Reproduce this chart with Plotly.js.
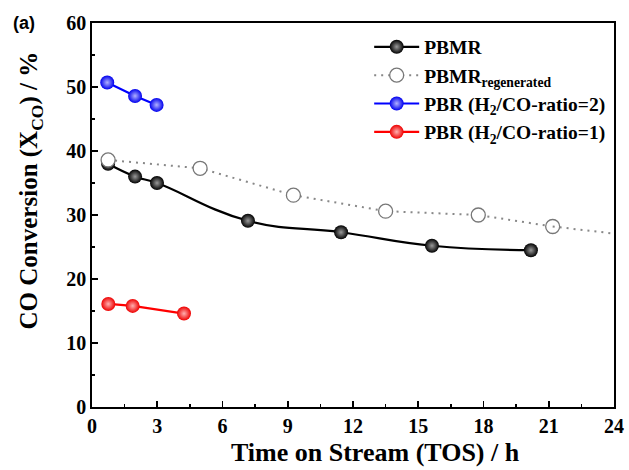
<!DOCTYPE html>
<html><head><meta charset="utf-8">
<script src="https://cdn.plot.ly/plotly-3.0.1.min.js"></script>
<style>html,body{margin:0;padding:0;background:#fff}#c{width:629px;height:470px}</style>
</head><body><div id="c"></div>
<script>
// Data
const pbmrX = [0.74, 1.98, 2.99, 7.17, 11.45, 15.63, 20.18];
const pbmrY = [38.0, 36.0, 35.0, 29.1, 27.3, 25.2, 24.5];
const regenX = [0.74, 4.97, 9.26, 13.5, 17.76, 21.18];
const regenY = [38.6, 37.3, 33.1, 30.6, 30.0, 28.2];
const regenTailX = [21.18, 24.0];
const regenTailY = [28.2, 27.1];
const pbr2X = [0.70, 1.98, 2.97];
const pbr2Y = [50.7, 48.6, 47.2];
const pbr1X = [0.75, 1.87, 4.23];
const pbr1Y = [16.1, 15.8, 14.6];
const xTicks = [0, 3, 6, 9, 12, 15, 18, 21, 24];
const yTicks = [0, 10, 20, 30, 40, 50, 60];

const serif = "Liberation Serif, Times New Roman, serif";
const dotDash = "2px,5px";

const traces = [
  {x: pbmrX, y: pbmrY, name: '<b>PBMR</b>', mode: 'lines+markers',
   line: {color: '#000', width: 2.2, shape: 'spline', smoothing: 1.3},
   marker: {size: 14, color: '#000', gradient: {type: 'radial', color: '#9a9a9a'}, line: {width: 0}}},
  {x: regenX, y: regenY, name: '<b>PBMR<sub>regenerated</sub></b>', mode: 'lines+markers',
   line: {color: '#888', width: 2, dash: dotDash},
   marker: {size: 14, color: '#fff', line: {color: '#777', width: 1.3}}},
  {x: regenTailX, y: regenTailY, mode: 'lines', showlegend: false, hoverinfo: 'skip',
   line: {color: '#888', width: 2, dash: dotDash}},
  {x: pbr2X, y: pbr2Y, name: '<b>PBR (H<sub>2</sub>/CO-ratio=2)</b>', mode: 'lines+markers',
   line: {color: '#0000ff', width: 2.2},
   marker: {size: 14, color: '#0000ee', gradient: {type: 'radial', color: '#b0b0ff'}, line: {width: 0}}},
  {x: pbr1X, y: pbr1Y, name: '<b>PBR (H<sub>2</sub>/CO-ratio=1)</b>', mode: 'lines+markers',
   line: {color: '#ff0000', width: 2.2},
   marker: {size: 14, color: '#ee0000', gradient: {type: 'radial', color: '#ffb0b0'}, line: {width: 0}}}
];

const axisCommon = {
  showgrid: false, zeroline: false, showline: true, linecolor: '#000', linewidth: 1.8,
  mirror: true, ticks: 'inside', ticklen: 6, tickwidth: 1.8, tickcolor: '#000',
  tickfont: {family: serif, size: 20, color: '#000', weight: 'bold'}
};

const layout = {
  width: 629, height: 470,
  margin: {l: 92, r: 15, t: 23, b: 63},
  paper_bgcolor: '#fff', plot_bgcolor: '#fff',
  xaxis: Object.assign({}, axisCommon, {
    range: [0, 24], tickvals: xTicks, ticktext: xTicks.map(v => '<b>' + v + '</b>'),
    minor: {dtick: 1.5, tick0: 0, ticks: 'inside', ticklen: 3, tickwidth: 1.5, tickcolor: '#000'}
  }),
  yaxis: Object.assign({}, axisCommon, {
    range: [0, 60], tickvals: yTicks, ticktext: yTicks.map(v => '<b>' + v + '</b>'),
    minor: {dtick: 5, tick0: 0, ticks: 'inside', ticklen: 3, tickwidth: 1.5, tickcolor: '#000'}
  }),
  legend: {x: 0.531, y: 0.988, xanchor: 'left', yanchor: 'top', bgcolor: 'rgba(0,0,0,0)',
    font: {family: serif, size: 19.5, color: '#000'}, itemwidth: 45, tracegroupgap: 0},
  showlegend: true,
  annotations: [
    {xref: 'paper', yref: 'paper', x: -0.155, y: 1.0, xanchor: 'left', yanchor: 'middle',
     text: '<b>(a)</b>', showarrow: false, font: {family: 'Liberation Sans, Arial, sans-serif', size: 18, color: '#000'}},
    {xref: 'paper', yref: 'paper', x: -0.118, y: 0.565, xanchor: 'center', yanchor: 'middle', textangle: -90,
     text: '<b>CO Conversion (X<sub>CO</sub>) / %</b>', showarrow: false, font: {family: serif, size: 25, color: '#000'}},
    {xref: 'paper', yref: 'paper', x: 0.544, y: -0.162, xanchor: 'center', yanchor: 'bottom',
     text: '<b>Time on Stream (TOS) / h</b>', showarrow: false, font: {family: serif, size: 26, color: '#000'}}
  ]
};

Plotly.newPlot('c', traces, layout, {displayModeBar: false, staticPlot: true});
</script></body></html>
